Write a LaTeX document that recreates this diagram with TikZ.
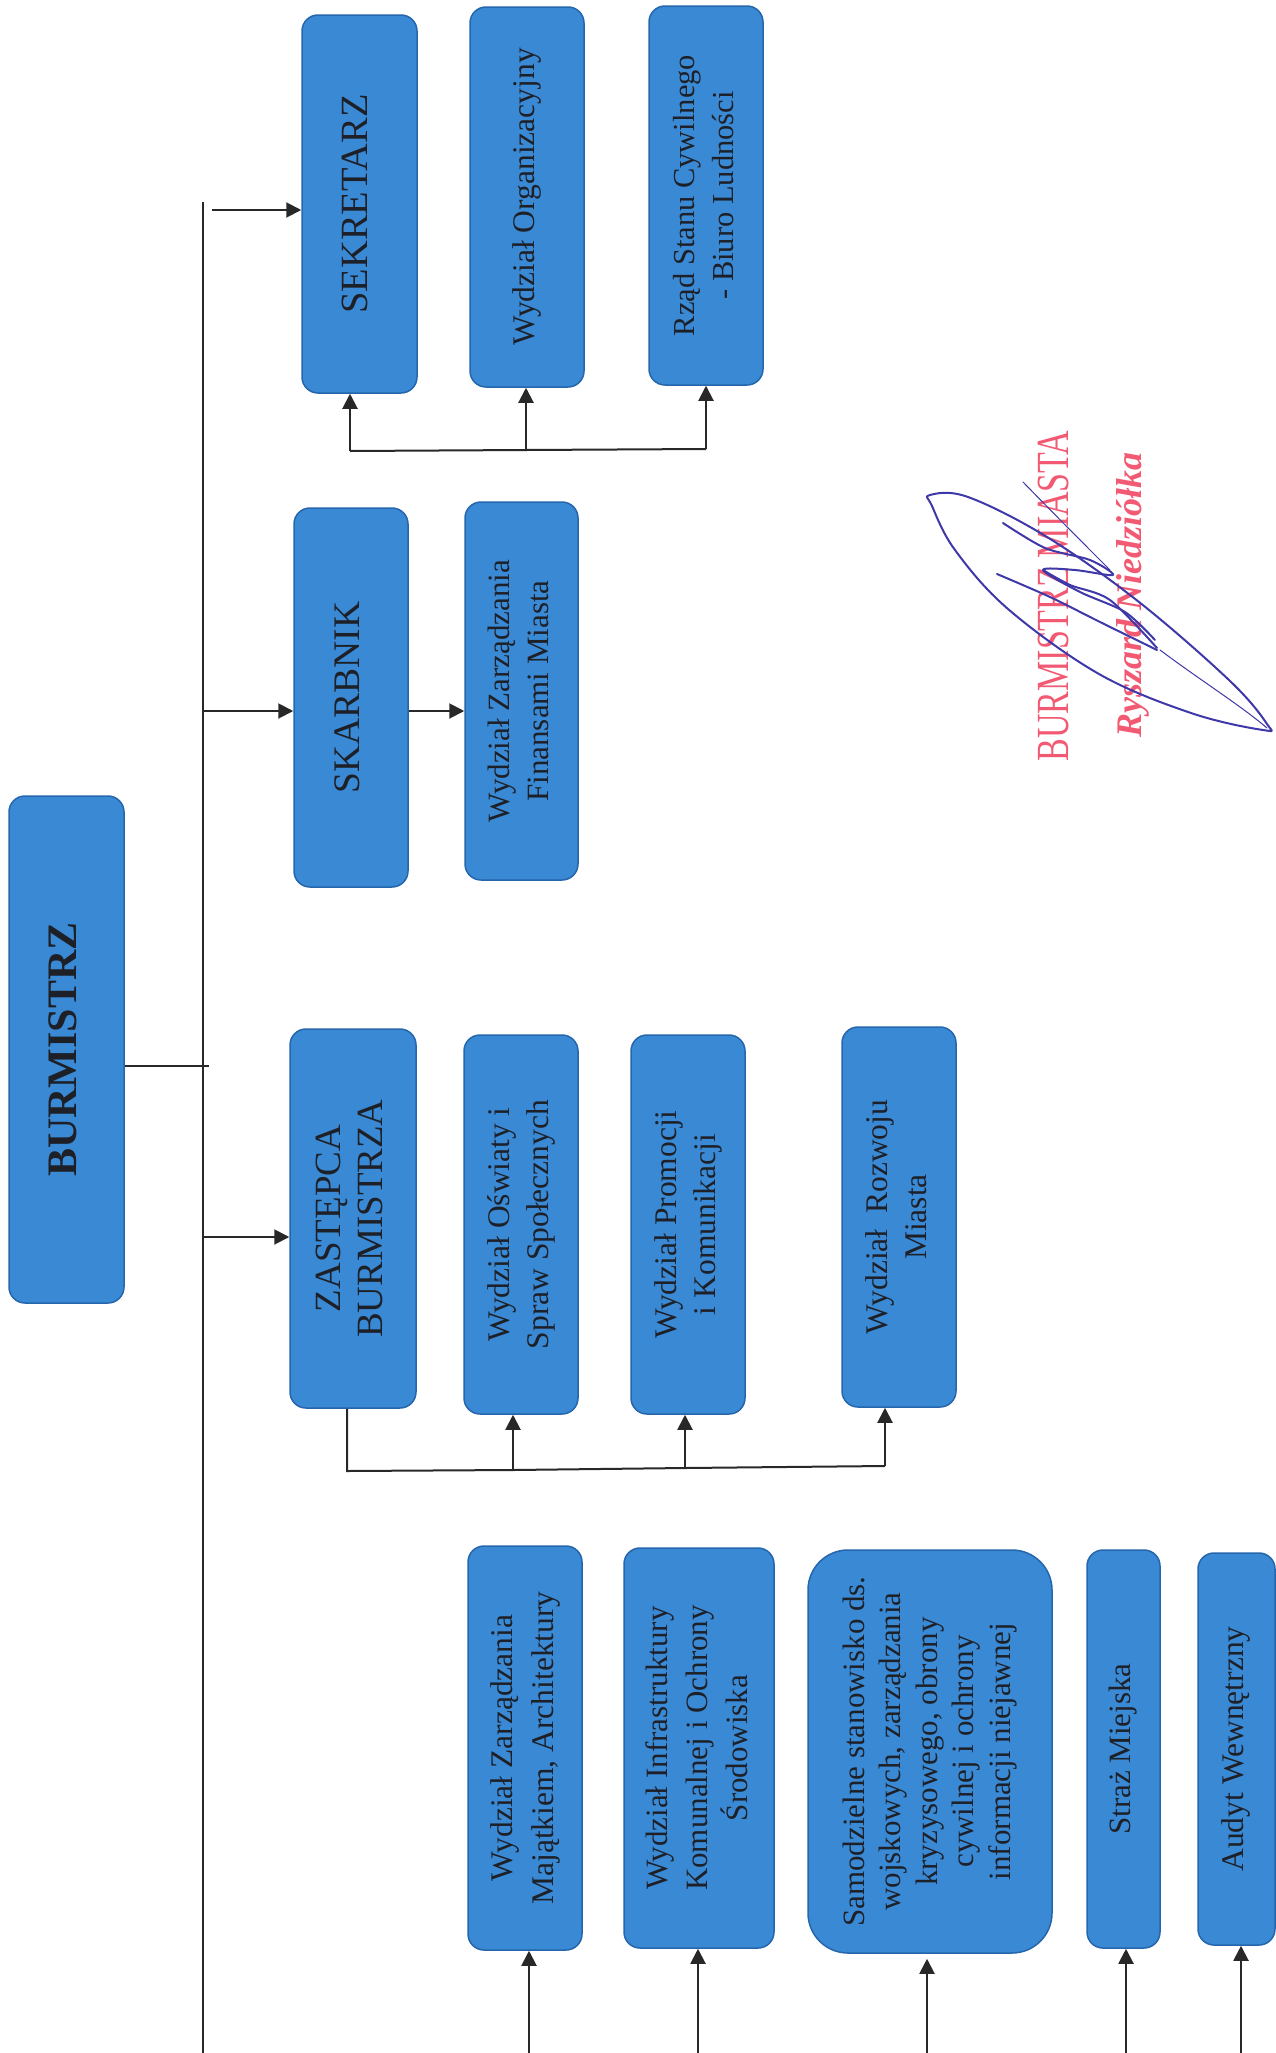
\documentclass[tikz,border=0pt]{standalone}
\usepackage{graphicx}
\usepackage{fontspec}
\setmainfont{Liberation Serif}
\usetikzlibrary{arrows.meta}
\definecolor{boxfill}{RGB}{58,137,212}
\definecolor{boxline}{RGB}{38,102,172}
\definecolor{txt}{RGB}{30,32,40}
\definecolor{ln}{RGB}{40,40,40}
\definecolor{stampred}{RGB}{242,90,115}
\definecolor{inkblue}{RGB}{62,56,168}
\tikzset{
  orgbox/.style={draw=boxline, fill=boxfill, line width=1.5pt, rounded corners=16pt, inner sep=0pt, text=txt, align=center},
  conn/.style={draw=ln, line width=2pt},
  arr/.style={conn, -{Triangle[length=15pt,width=15pt]}},
  stamp/.style={rotate=90, text=stampred, inner sep=0pt},
  ink/.style={draw=inkblue, line width=2pt, line cap=round, line join=round}
}
\newcommand\vtext[3]{\rotatebox{90}{\fontsize{#1}{#2}\selectfont\begin{tabular}{@{}c@{}}#3\end{tabular}}}
\begin{document}
\begin{tikzpicture}[x=1pt,y=-1pt]
\fill[white] (0,0) rectangle (1276,2053);
\useasboundingbox (0,0) rectangle (1276,2053);

% boxes
\node[orgbox, minimum width=115pt, minimum height=507pt] (burm) at (66.5,1049.5) {\vtext{42}{48}{\bfseries BURMISTRZ}};
\node[orgbox, minimum width=115pt, minimum height=378pt] (sek) at (359.5,204) {\vtext{38.5}{42}{SEKRETARZ}};
\node[orgbox, minimum width=114pt, minimum height=380pt] (org) at (527,197) {\vtext{31.5}{39}{Wydział Organizacyjny}};
\node[orgbox, minimum width=114pt, minimum height=379pt] (usc) at (706,195.5) {\vtext{30.5}{39}{Rząd Stanu Cywilnego\\- Biuro Ludności}};
\node[orgbox, minimum width=114pt, minimum height=379pt] (skarb) at (351,697.5) {\vtext{37.5}{42}{SKARBNIK}};
\node[orgbox, minimum width=113pt, minimum height=378pt] (fin) at (521.5,691) {\vtext{31}{39}{Wydział Zarządzania\\Finansami Miasta}};
\node[orgbox, minimum width=126pt, minimum height=379pt] (zast) at (353,1218.5) {\vtext{37}{42}{ZASTĘPCA\\BURMISTRZA}};
\node[orgbox, minimum width=114pt, minimum height=379pt] (osw) at (521,1224.5) {\vtext{31.5}{39}{Wydział Oświaty i\\Spraw Społecznych}};
\node[orgbox, minimum width=114pt, minimum height=379pt] (prom) at (688,1224.5) {\vtext{31.5}{39}{Wydział Promocji\\i Komunikacji}};
\node[orgbox, minimum width=114pt, minimum height=380pt] (rozw) at (899,1217) {\vtext{31.5}{39}{Wydział~ Rozwoju\\Miasta}};
\node[orgbox, minimum width=114pt, minimum height=404pt] (maj) at (525,1748) {\vtext{31.5}{41}{Wydział Zarządzania\\Majątkiem, Architektury}};
\node[orgbox, minimum width=150pt, minimum height=400pt] (infra) at (699,1748) {\vtext{31}{40}{Wydział Infrastruktury\\Komunalnej i Ochrony\\Środowiska}};
\node[orgbox, rounded corners=40pt, minimum width=244pt, minimum height=403pt] (samo) at (930,1751.5) {\vtext{31}{36.5}{Samodzielne stanowisko ds.\\wojskowych, zarządzania\\kryzysowego, obrony\\cywilnej i ochrony\\informacji niejawnej}};
\node[orgbox, minimum width=73pt, minimum height=398pt] (straz) at (1123.5,1749) {\vtext{31}{37}{Straż Miejska}};
\node[orgbox, minimum width=77pt, minimum height=392pt] (audyt) at (1236.5,1749) {\vtext{31.5}{37}{Audyt Wewnętrzny}};

% trunk
\coordinate (ttop) at (203,202);
\coordinate (tbot) at (203,2053);
\draw[conn] (ttop) -- (tbot);
\coordinate (bj) at (209,1066);
\draw[conn] (burm.east |- bj) -- (bj);

% arrows from trunk
\coordinate (a1) at (212,210);
\coordinate (a2) at (203,711);
\coordinate (a3) at (203,1237);
\draw[arr] (a1) -- (a1 -| sek.west);
\draw[arr] (a2) -- (a2 -| skarb.west);
\draw[arr] (a3) -- (a3 -| zast.west);
\draw[arr] (skarb.east |- a2) -- (fin.west |- a2);

% sekretarz group
\coordinate (s1) at (350,451);
\coordinate (s2) at (526,450);
\coordinate (s3) at (706,449);
\draw[conn] (s1) -- (s2) -- (s3);
\draw[arr] (s1) -- (s1 |- sek.south);
\draw[arr] (s2) -- (s2 |- org.south);
\draw[arr] (s3) -- (s3 |- usc.south);

% zastepca group
\coordinate (z1) at (347,1471);
\coordinate (z3) at (513,1470);
\coordinate (z4) at (685,1468);
\coordinate (z2) at (885,1466);
\draw[conn] (z1 |- zast.south) -- (z1) -- (z3) -- (z4) -- (z2);
\draw[arr] (z3) -- (z3 |- osw.south);
\draw[arr] (z4) -- (z4 |- prom.south);
\draw[arr] (z2) -- (z2 |- rozw.south);

% bottom arrows
\coordinate (b1) at (529,2053);
\coordinate (b2) at (698,2053);
\coordinate (b3) at (927,2053);
\coordinate (b4) at (1126,2053);
\coordinate (b5) at (1241,2053);
\draw[arr] (b1) -- (b1 |- maj.south);
\draw[arr] (b2) -- (b2 |- infra.south);
\draw[arr, shorten >=5pt] (b3) -- (b3 |- samo.south);
\draw[arr] (b4) -- (b4 |- straz.south);
\draw[arr] (b5) -- (b5 |- audyt.south);

% stamp
\node[stamp, font=\fontsize{46}{46}\selectfont] (stampa) at (1053,596) {\scalebox{0.74}[1]{BURMISTRZ MIASTA}};
\node[stamp, font=\bfseries\itshape\fontsize{36}{36}\selectfont] (stampb) at (1133,595) {Ryszard Niedziółka};

% signature
\draw[ink] plot[smooth cycle, tension=0.6] coordinates {(930,495) (968,497) (1047,537) (1139,602) (1230,681) (1267,724) (1263,730) (1191,713) (1099,674) (1008,609) (955,550) (932,506)};
\draw[ink] plot[smooth] coordinates {(997,574) (1050,597) (1100,622) (1157,650)};
\draw[ink] plot[smooth] coordinates {(1003,523) (1045,548) (1090,560) (1113,575) (1075,570) (1043,570) (1080,592) (1125,612) (1155,640)};
\draw[ink] plot[smooth] coordinates {(1043,570) (1070,585) (1110,600) (1157,648)};
\draw[ink, line width=1pt] (1023,482) .. controls (1060,520) and (1090,550) .. (1110,570);
\draw[ink, line width=1pt] (1160,650) .. controls (1200,680) and (1240,705) .. (1267,728);
\end{tikzpicture}
\end{document}
